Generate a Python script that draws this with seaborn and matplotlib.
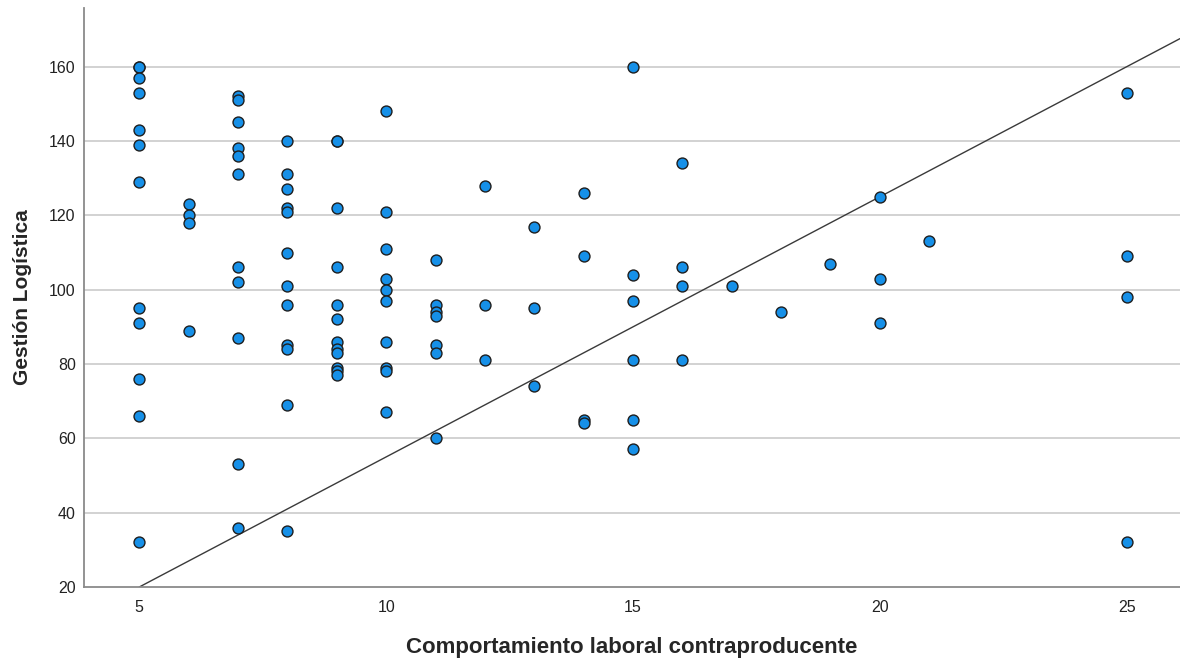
import matplotlib
matplotlib.use('Agg')

import pandas as pd
import seaborn as sns
import matplotlib.pyplot as plt

sns.set_style("white")
plt.rcParams['font.family'] = ['Liberation Sans', 'DejaVu Sans']

# values, grouped by x value
comportamiento = (
    [5] * 12 + [6] * 4 + [7] * 11 + [8] * 12 + [9] * 12 + [10] * 10 +
    [11] * 7 + [12] * 3 + [13] * 3 + [14] * 4 + [15] * 6 + [16] * 4 +
    [17] + [18] + [19] + [20] * 3 + [21] + [25] * 4
)
gestion = (
    [160, 160, 157, 153, 143, 139, 129, 95, 91, 76, 66, 32] +
    [123, 120, 118, 89] +
    [152, 151, 145, 138, 136, 131, 106, 102, 87, 53, 36] +
    [140, 131, 127, 122, 121, 110, 101, 96, 85, 84, 69, 35] +
    [140, 140, 122, 106, 96, 92, 86, 84, 83, 79, 78, 77] +
    [148, 121, 111, 103, 100, 97, 86, 79, 78, 67] +
    [108, 96, 94, 93, 85, 83, 60] +
    [128, 96, 81] +
    [117, 95, 74] +
    [126, 109, 65, 64] +
    [160, 104, 97, 81, 65, 57] +
    [134, 106, 101, 81] +
    [101] + [94] + [107] +
    [125, 103, 91] +
    [113] +
    [153, 109, 98, 32]
)

x_ticks = [5, 10, 15, 20, 25]
y_ticks = [20, 40, 60, 80, 100, 120, 140, 160]

# reference line through (5, 20)
ref_point = (5, 20)
ref_slope = 7

df = pd.DataFrame({"x": comportamiento, "y": gestion})

fig = plt.figure(figsize=(11.8, 6.61), dpi=100)
ax = fig.add_axes([84 / 1180, 1 - 587 / 661, 1 - 84 / 1180, (587 - 8) / 661])

for yv in y_ticks[1:]:
    ax.axhline(yv, color="#d2d2d2", lw=1.4, zorder=0)

ax.axline(ref_point, slope=ref_slope, color="#3a3a3a", lw=1.0, zorder=1)

sns.scatterplot(data=df, x="x", y="y", ax=ax, s=62, color="#1690e8",
                edgecolor="#1e1e1e", linewidth=1.0, zorder=3, legend=False)

ax.set_xlim(3.88, 26.08)
ax.set_ylim(20, 175.8)
ax.set_xticks(x_ticks)
ax.set_yticks(y_ticks)
ax.tick_params(axis="both", length=0, labelsize=11.5, colors="#222222")
ax.tick_params(axis="x", pad=9)
ax.tick_params(axis="y", pad=6)

for side in ["top", "right"]:
    ax.spines[side].set_visible(False)
for side in ["left", "bottom"]:
    ax.spines[side].set_color("#8a8a8a")
    ax.spines[side].set_linewidth(1.3)

ax.set_xlabel("Comportamiento laboral contraproducente", fontsize=16,
              fontweight="bold")
ax.xaxis.set_label_coords(0.5, -(648 - 587) / 579, transform=ax.transAxes)
ax.xaxis.label.set_va("center")
ax.set_ylabel("Gestión Logística", fontsize=15, fontweight="bold", labelpad=12)

fig.savefig("out.png", dpi=100)
